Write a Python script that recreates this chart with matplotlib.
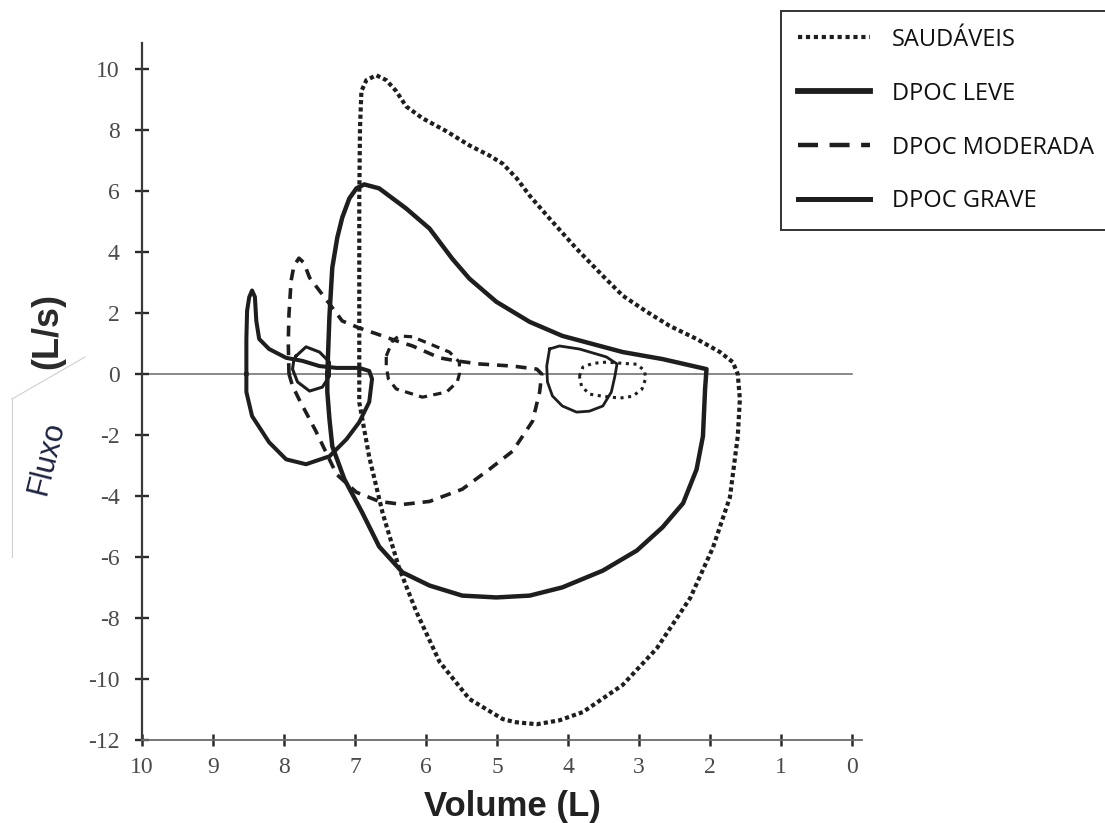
import matplotlib
matplotlib.use("Agg")
import matplotlib.pyplot as plt
from matplotlib.lines import Line2D

# Flow-volume loops (volume in L, flow in L/s)

# SAUDAVEIS - maximal loop
saudaveis_vol = [6.94, 6.94, 6.94, 6.93, 6.91, 6.84, 6.70, 6.56, 6.42, 6.28,
                 6.05, 5.71, 5.39, 5.11, 4.92, 4.72, 4.54, 4.26, 3.88, 3.51,
                 3.23, 2.89, 2.57, 2.19, 1.86, 1.68, 1.61, 1.58, 1.61, 1.72,
                 1.96, 2.28, 2.75, 3.23, 3.79, 4.12, 4.44, 4.75, 4.92, 5.39,
                 5.81, 6.14, 6.38, 6.61, 6.80, 6.94, 6.94]
saudaveis_flow = [0.0, 2.47, 5.76, 8.06, 9.28, 9.64, 9.80, 9.64, 9.28, 8.78,
                  8.39, 7.96, 7.50, 7.17, 6.90, 6.41, 5.85, 5.10, 4.11, 3.22,
                  2.57, 2.04, 1.58, 1.15, 0.72, 0.39, 0.0, -0.83, -2.05, -4.04,
                  -5.70, -7.35, -9.0, -10.2, -11.09, -11.36, -11.49, -11.42, -11.32, -10.66,
                  -9.44, -7.78, -6.36, -4.57, -2.72, -0.93, 0.0]

# SAUDAVEIS - tidal loop
saudaveis_tidal_vol = [3.84, 3.79, 3.65, 3.46, 3.23, 3.03, 2.92, 2.91, 2.96, 3.09,
                       3.27, 3.51, 3.70, 3.81, 3.84]
saudaveis_tidal_flow = [-0.07, 0.23, 0.35, 0.39, 0.35, 0.32, 0.10, -0.17, -0.50, -0.73,
                        -0.79, -0.73, -0.66, -0.40, -0.07]

# DPOC LEVE - maximal loop
leve_vol = [7.39, 7.36, 7.32, 7.25, 7.18, 7.08, 6.98, 6.87, 6.66, 6.28,
            5.95, 5.63, 5.39, 5.01, 4.54, 4.08, 3.23, 2.67, 2.05, 2.07,
            2.10, 2.19, 2.38, 2.67, 3.03, 3.51, 4.08, 4.54, 5.01, 5.49,
            5.95, 6.33, 6.66, 6.90, 7.15, 7.32, 7.36, 7.39, 7.39]
leve_flow = [0.0, 1.91, 3.49, 4.47, 5.13, 5.76, 6.09, 6.22, 6.09, 5.43,
             4.77, 3.78, 3.13, 2.37, 1.71, 1.25, 0.72, 0.49, 0.16, -0.49,
             -2.04, -3.13, -4.24, -5.03, -5.79, -6.45, -7.0, -7.27, -7.33, -7.27,
             -6.94, -6.51, -5.66, -4.54, -3.45, -2.37, -1.48, -0.59, 0.0]

# DPOC LEVE - tidal loop
leve_tidal_vol = [4.26, 4.12, 3.84, 3.46, 3.31, 3.34, 3.39, 3.51, 3.70, 3.88,
                  4.08, 4.22, 4.29, 4.30, 4.26]
leve_tidal_flow = [0.82, 0.92, 0.82, 0.56, 0.33, -0.07, -0.59, -1.05, -1.22, -1.25,
                   -1.05, -0.72, -0.26, 0.26, 0.82]

# DPOC MODERADA - maximal loop
moderada_vol = [7.93, 7.94, 7.93, 7.90, 7.86, 7.79, 7.72, 7.64, 7.50, 7.36,
                7.18, 6.94, 6.70, 6.42, 6.19, 5.81, 5.57, 5.25, 4.78, 4.44,
                4.37, 4.40, 4.50, 4.78, 5.11, 5.49, 5.95, 6.33, 6.66, 6.98,
                7.26, 7.55, 7.79, 7.88, 7.93]
moderada_flow = [0.0, 1.05, 1.97, 3.06, 3.55, 3.80, 3.65, 3.16, 2.73, 2.30,
                 1.74, 1.51, 1.32, 1.09, 0.92, 0.53, 0.43, 0.33, 0.26, 0.16,
                 0.0, -0.59, -1.55, -2.53, -3.13, -3.78, -4.18, -4.28, -4.18, -3.88,
                 -3.29, -1.88, -0.82, -0.39, 0.0]

# DPOC MODERADA - tidal loop
moderada_tidal_vol = [6.56, 6.47, 6.38, 6.19, 5.95, 5.67, 5.53, 5.53, 5.56, 5.71,
                      6.05, 6.42, 6.53, 6.56, 6.56]
moderada_tidal_flow = [0.59, 1.09, 1.25, 1.22, 0.99, 0.72, 0.39, 0.0, -0.26, -0.59,
                       -0.76, -0.49, -0.16, 0.26, 0.59]

# DPOC GRAVE - maximal loop
grave_vol = [8.53, 8.53, 8.52, 8.49, 8.45, 8.41, 8.39, 8.35, 8.21, 7.97,
             7.74, 7.50, 7.26, 6.94, 6.80, 6.76, 6.80, 6.94, 7.12, 7.36,
             7.69, 7.97, 8.21, 8.45, 8.53, 8.53]
grave_flow = [0.0, 1.15, 2.07, 2.52, 2.74, 2.53, 1.74, 1.15, 0.82, 0.53,
              0.43, 0.26, 0.20, 0.20, 0.10, -0.16, -0.92, -1.58, -2.14, -2.70,
              -2.96, -2.80, -2.24, -1.38, -0.59, 0.0]

# DPOC GRAVE - tidal loop
grave_tidal_vol = [7.83, 7.69, 7.50, 7.36, 7.36, 7.46, 7.64, 7.81, 7.88, 7.86, 7.83]
grave_tidal_flow = [0.59, 0.89, 0.72, 0.39, -0.07, -0.43, -0.56, -0.26, 0.16, 0.49, 0.59]

legend_labels = ["SAUDÁVEIS", "DPOC LEVE", "DPOC MODERADA", "DPOC GRAVE"]
x_ticks = list(range(0, 11))
y_ticks = list(range(-12, 11, 2))

plt.rcParams["axes.unicode_minus"] = False

fig = plt.figure(figsize=(11.05, 8.23), dpi=100)
ax = fig.add_axes([0.1285, 0.1011, 0.6516, 0.8467])

ink = "#1e1e1e"
dotted = (0, (1, 0.75))
dotted_small = (0, (1, 1.5))
dashed = (0, (3, 2.2))
dashed_small = (0, (2.6, 2.0))

# zero flow line, from 10 L to 0 L
ax.axhline(0, xmax=10 / 10.14, color="#6a6a6a", lw=1.1, zorder=1)

# healthy
ax.plot(saudaveis_vol, saudaveis_flow, color=ink, lw=3.0, linestyle=dotted,
        dash_capstyle="butt", zorder=2)
ax.plot(saudaveis_tidal_vol, saudaveis_tidal_flow, color=ink, lw=2.2,
        linestyle=dotted_small, dash_capstyle="butt", zorder=2)

# mild COPD
ax.plot(leve_vol, leve_flow, color=ink, lw=3.2, solid_joinstyle="round", zorder=3)
ax.plot(leve_tidal_vol, leve_tidal_flow, color=ink, lw=2.0, solid_joinstyle="round", zorder=3)

# moderate COPD
ax.plot(moderada_vol, moderada_flow, color=ink, lw=2.6, linestyle=dashed,
        dash_capstyle="butt", zorder=3)
ax.plot(moderada_tidal_vol, moderada_tidal_flow, color=ink, lw=2.3,
        linestyle=dashed_small, dash_capstyle="butt", zorder=3)

# severe COPD
ax.plot(grave_vol, grave_flow, color=ink, lw=2.9, solid_joinstyle="round", zorder=3)
ax.plot(grave_tidal_vol, grave_tidal_flow, color=ink, lw=2.2, solid_joinstyle="round", zorder=3)

ax.set_xlim(10, -0.14)
ax.set_ylim(-12, 10.86)
ax.set_xticks(x_ticks)
ax.set_yticks(y_ticks)

ax.spines["top"].set_visible(False)
ax.spines["right"].set_visible(False)
ax.spines["left"].set_color("#3a3a3a")
ax.spines["left"].set_linewidth(1.6)
ax.spines["bottom"].set_color("#6a6a6a")
ax.spines["bottom"].set_linewidth(1.3)

ax.tick_params(axis="y", direction="inout", length=10, width=1.7, color="#2a2a2a",
               labelsize=17, labelcolor="#4a4a4a", pad=11, labelfontfamily="Liberation Serif")
ax.tick_params(axis="x", direction="inout", length=9, width=1.8, color="#2a2a2a",
               labelsize=17, labelcolor="#4a4a4a", pad=8, labelfontfamily="Liberation Serif")

# axis titles
fig.text(0.4633, 0.0195, "Volume (L)", ha="center", va="center", fontsize=25,
         fontweight="bold", family="Liberation Sans", color="#222222")
fig.text(0.0434, 0.598, "(L/s)", ha="center", va="center", rotation=90, fontsize=26,
         fontweight="bold", family="Liberation Sans", color="#2a2a2a")
fig.text(0.0425, 0.4435, "Fluxo", ha="center", va="center", rotation=76, fontsize=22,
         family="Liberation Sans", color="#1c2340")

# faint frame lines around the pasted "Fluxo" label
fig.add_artist(Line2D([12 / 1105, 85 / 1105], [1 - 399 / 823, 1 - 357 / 823],
                      transform=fig.transFigure, color="#cfcfcf", lw=0.8))
fig.add_artist(Line2D([12 / 1105, 12 / 1105], [1 - 399 / 823, 1 - 557 / 823],
                      transform=fig.transFigure, color="#cfcfcf", lw=0.8))

# legend
handles = [
    Line2D([], [], color=ink, lw=3.0, linestyle=(0, (1, 0.9)), dash_capstyle="butt"),
    Line2D([], [], color=ink, lw=4.2),
    Line2D([], [], color=ink, lw=3.2, linestyle=(0, (4.5, 2.6)), dash_capstyle="butt"),
    Line2D([], [], color=ink, lw=3.6),
]
leg = fig.legend(handles, legend_labels, loc="upper left",
                 bbox_to_anchor=(781 / 1105, 1 - 11 / 823), bbox_transform=fig.transFigure,
                 frameon=True, fancybox=False, edgecolor="#333333", framealpha=1,
                 handlelength=3.05, handletextpad=0.95, labelspacing=1.27,
                 borderpad=0.7, borderaxespad=0,
                 prop={"family": "Open Sans", "size": 17})
leg.get_frame().set_linewidth(1.4)
for t in leg.get_texts():
    t.set_color("#111111")

fig.savefig("out.png", dpi=100)
